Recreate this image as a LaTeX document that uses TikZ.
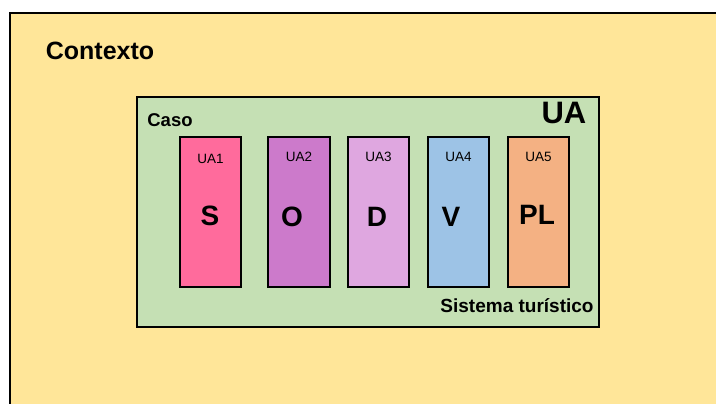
\documentclass[tikz,border=0pt]{standalone}
\usepackage{fontspec}
\setmainfont{Liberation Sans}
\usetikzlibrary{positioning}

\definecolor{contextofill}{HTML}{FFE699}
\definecolor{casofill}{HTML}{C5E0B4}
\definecolor{sfill}{HTML}{FF6B9C}
\definecolor{ofill}{HTML}{CC7ACB}
\definecolor{dfill}{HTML}{DFA7E0}
\definecolor{vfill}{HTML}{9DC3E6}
\definecolor{plfill}{HTML}{F4B183}

\begin{document}
\begin{tikzpicture}[x=1pt, y=-1pt,
  uabox/.style={draw=black, line width=1.8pt, minimum width=61pt, minimum height=150pt, inner sep=0pt, anchor=north west},
  uatag/.style={font=\fontsize{13.5}{15}\selectfont, inner sep=0pt},
  ualetter/.style={font=\bfseries\fontsize{28}{32}\selectfont, inner sep=0pt},
  boldlabel/.style={font=\bfseries, inner sep=0pt}]
  \useasboundingbox (0,0) rectangle (716,404);

  % Context
  \fill[contextofill] (10,13) rectangle (716,404);
  \draw[line width=2pt] (10,404) -- (10,13) -- (716,13);
  \node[boldlabel, font=\bfseries\fontsize{25}{28}\selectfont] (contexto) at (100,51) {Contexto};

  % Case
  \node[draw=black, fill=casofill, line width=1.8pt, minimum width=462pt, minimum height=230pt, inner sep=0pt, anchor=north west] (caso) at (136,96) {};
  \node[boldlabel, font=\bfseries\fontsize{18.5}{21}\selectfont] (casolabel) at (170,120) {Caso};
  \node[boldlabel, font=\bfseries\fontsize{31}{34}\selectfont] (ua) at (564,113) {UA};
  \node[boldlabel, font=\bfseries\fontsize{19}{22}\selectfont] (sistema) at (517,306) {Sistema turístico};

  % Units of analysis
  \node[uabox, fill=sfill] (s) at (179,136) {};
  \node[uabox, fill=ofill, minimum width=62pt] (o) at (267,136) {};
  \node[uabox, fill=dfill] (d) at (347,136) {};
  \node[uabox, fill=vfill] (v) at (427,136) {};
  \node[uabox, fill=plfill] (pl) at (507,136) {};

  \node[uatag] (ua1) at ([yshift=-23pt]s.north) {UA1};
  \node[uatag] (ua2) at ([yshift=-21pt]o.north) {UA2};
  \node[uatag] (ua3) at ([yshift=-21pt]d.north) {UA3};
  \node[uatag] (ua4) at ([yshift=-21pt]v.north) {UA4};
  \node[uatag] (ua5) at ([yshift=-21pt]pl.north) {UA5};

  \node[ualetter] (sl) at (210,216) {S};
  \node[ualetter] (ol) at (292,217) {O};
  \node[ualetter] (dl) at (377,217) {D};
  \node[ualetter] (vl) at (451,217) {V};
  \node[ualetter] (pll) at (537,215) {PL};
\end{tikzpicture}
\end{document}
